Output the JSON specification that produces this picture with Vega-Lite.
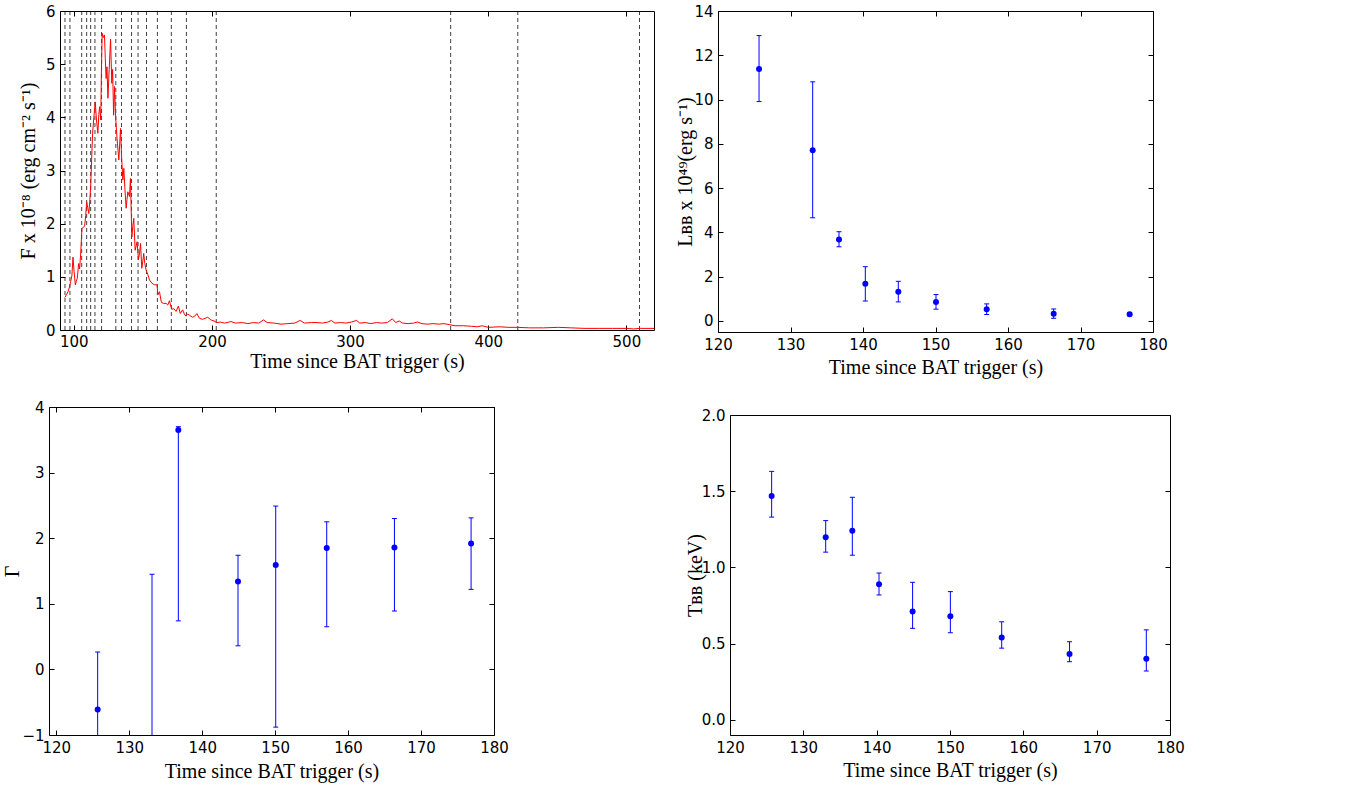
{
  "$schema": "https://vega.github.io/schema/vega-lite/v6.json",
  "background": "white",
  "padding": {"left": 2, "top": 3, "right": 5, "bottom": 5},
  "config": {
    "view": {"stroke": "#000000", "strokeWidth": 1},
    "axis": {"grid": false, "domain": false, "domainColor": "#000000", "domainWidth": 1, "tickColor": "#000000", "tickSize": -5, "labelPadding": 10, "labelFont": "DejaVu Sans", "labelFontSize": 15, "labelColor": "#000000", "titleFont": "Liberation Serif", "titleFontSize": 20, "titleFontWeight": "normal", "titleColor": "#000000", "labelFlush": false, "labelOverlap": false}
  },
  "datasets": {
    "dash": [{"t":93.6},{"t":97.2},{"t":105.7},{"t":109.3},{"t":112.2},{"t":115.3},{"t":120.1},{"t":130.4},{"t":134.5},{"t":141.8},{"t":146.5},{"t":152.6},{"t":160.5},{"t":170.6},{"t":181.5},{"t":203.1},{"t":372.8},{"t":421.4},{"t":509.5}],
    "lc": [
      {"t":93.5,"f":0.61},{"t":94.6,"f":0.66},{"t":95.8,"f":0.72},{"t":96.8,"f":0.8},{"t":97.7,"f":0.91},{"t":98.6,"f":1.02},{"t":99.4,"f":1.37},{"t":100.2,"f":1.1},{"t":101.1,"f":0.85},{"t":101.8,"f":0.92},{"t":102.5,"f":0.97},{"t":103.5,"f":1.25},{"t":104.2,"f":1.15},{"t":104.9,"f":1.41},{"t":105.9,"f":1.91},{"t":106.8,"f":1.93},{"t":107.8,"f":1.95},{"t":108.6,"f":2.15},{"t":109.3,"f":2.41},{"t":110.1,"f":2.3},{"t":110.9,"f":2.19},{"t":111.6,"f":2.45},{"t":112.2,"f":2.7},{"t":112.9,"f":3.2},{"t":113.6,"f":3.7},{"t":114.5,"f":4.0},{"t":115.5,"f":4.29},{"t":116.4,"f":3.95},{"t":117.4,"f":3.7},{"t":118.1,"f":4.05},{"t":118.7,"f":4.2},{"t":119.5,"f":3.95},{"t":120.0,"f":4.9},{"t":120.5,"f":5.58},{"t":121.3,"f":5.5},{"t":122.2,"f":5.55},{"t":122.8,"f":5.1},{"t":123.4,"f":4.73},{"t":124.0,"f":4.95},{"t":124.7,"f":4.36},{"t":125.6,"f":4.9},{"t":126.6,"f":5.47},{"t":127.5,"f":4.64},{"t":128.1,"f":4.9},{"t":128.8,"f":4.04},{"t":129.5,"f":4.58},{"t":130.1,"f":4.1},{"t":130.7,"f":3.82},{"t":131.6,"f":3.5},{"t":132.6,"f":3.2},{"t":133.8,"f":3.79},{"t":134.6,"f":3.25},{"t":135.5,"f":2.82},{"t":136.2,"f":3.04},{"t":137.0,"f":2.65},{"t":137.9,"f":2.29},{"t":138.5,"f":2.45},{"t":139.1,"f":2.6},{"t":140.3,"f":2.51},{"t":141.0,"f":2.85},{"t":142.0,"f":1.75},{"t":142.7,"f":1.95},{"t":143.4,"f":2.1},{"t":144.4,"f":1.5},{"t":145.1,"f":1.58},{"t":145.8,"f":1.66},{"t":146.8,"f":1.32},{"t":147.6,"f":1.45},{"t":148.3,"f":1.63},{"t":149.2,"f":1.16},{"t":150.0,"f":1.3},{"t":150.6,"f":1.44},{"t":151.4,"f":1.25},{"t":152.3,"f":1.13},{"t":153.5,"f":1.05},{"t":154.8,"f":0.94},{"t":156.5,"f":0.88},{"t":158.4,"f":0.85},{"t":160.3,"f":0.85},{"t":160.8,"f":0.66},{"t":162.0,"f":0.72},{"t":163.4,"f":0.52},{"t":165.0,"f":0.5},{"t":166.8,"f":0.5},{"t":168.0,"f":0.47},{"t":169.2,"f":0.55},{"t":170.9,"f":0.39},{"t":172.5,"f":0.4},{"t":174.0,"f":0.35},{"t":175.7,"f":0.45},{"t":177.1,"f":0.31},{"t":178.8,"f":0.38},{"t":180.0,"f":0.3},{"t":181.2,"f":0.26},{"t":182.4,"f":0.3},{"t":183.6,"f":0.28},{"t":186.0,"f":0.24},{"t":187.5,"f":0.26},{"t":189.1,"f":0.31},{"t":190.9,"f":0.22},{"t":193.2,"f":0.2},{"t":195.0,"f":0.22},{"t":196.9,"f":0.24},{"t":199.2,"f":0.19},{"t":201.5,"f":0.17},{"t":203.6,"f":0.14},{"t":206.0,"f":0.15},{"t":208.9,"f":0.13},{"t":211.0,"f":0.14},{"t":213.7,"f":0.16},{"t":217,"f":0.13},{"t":222,"f":0.14},{"t":226,"f":0.12},{"t":230,"f":0.14},{"t":234,"f":0.13},{"t":237.3,"f":0.19},{"t":240,"f":0.14},{"t":245,"f":0.13},{"t":250,"f":0.11},{"t":255,"f":0.12},{"t":260,"f":0.13},{"t":263.8,"f":0.18},{"t":267,"f":0.13},{"t":272,"f":0.14},{"t":276,"f":0.14},{"t":280,"f":0.13},{"t":284,"f":0.15},{"t":286.4,"f":0.18},{"t":289,"f":0.13},{"t":293,"f":0.14},{"t":297,"f":0.13},{"t":301,"f":0.15},{"t":304.7,"f":0.18},{"t":307,"f":0.13},{"t":311,"f":0.14},{"t":315,"f":0.12},{"t":319,"f":0.14},{"t":323,"f":0.13},{"t":327,"f":0.14},{"t":330.6,"f":0.21},{"t":333,"f":0.14},{"t":335.5,"f":0.17},{"t":338,"f":0.13},{"t":342,"f":0.12},{"t":346,"f":0.13},{"t":348.7,"f":0.15},{"t":352,"f":0.12},{"t":356,"f":0.11},{"t":360,"f":0.12},{"t":364,"f":0.11},{"t":368,"f":0.12},{"t":372,"f":0.1},{"t":376,"f":0.08},{"t":382,"f":0.08},{"t":388,"f":0.07},{"t":392,"f":0.06},{"t":395.6,"f":0.08},{"t":400,"f":0.05},{"t":408,"f":0.06},{"t":415,"f":0.05},{"t":421,"f":0.05},{"t":430,"f":0.04},{"t":440,"f":0.04},{"t":451,"f":0.05},{"t":460,"f":0.04},{"t":470,"f":0.03},{"t":480,"f":0.03},{"t":490,"f":0.03},{"t":500,"f":0.03},{"t":505,"f":0.02},{"t":510,"f":0.03},{"t":520,"f":0.03}
    ],
    "lbb": [
      {"t":125.66,"v":11.38,"lo":9.91,"hi":12.89},
      {"t":133.06,"v":7.71,"lo":4.66,"hi":10.8},
      {"t":136.69,"v":3.68,"lo":3.35,"hi":4.03},
      {"t":140.32,"v":1.68,"lo":0.9,"hi":2.45},
      {"t":144.87,"v":1.32,"lo":0.86,"hi":1.79},
      {"t":150.07,"v":0.86,"lo":0.53,"hi":1.19},
      {"t":157.06,"v":0.53,"lo":0.29,"hi":0.77},
      {"t":166.3,"v":0.33,"lo":0.12,"hi":0.54},
      {"t":176.78,"v":0.3,"lo":0.23,"hi":0.37}
    ],
    "gam": [
      {"t":125.67,"v":-0.61,"lo":-1.8,"hi":0.265},
      {"t":133.12,"v":-2.3,"lo":-6.0,"hi":1.45},
      {"t":136.73,"v":3.65,"lo":0.74,"hi":3.7},
      {"t":144.91,"v":1.34,"lo":0.36,"hi":1.74},
      {"t":150.08,"v":1.59,"lo":-0.88,"hi":2.49},
      {"t":157.07,"v":1.85,"lo":0.65,"hi":2.25},
      {"t":166.35,"v":1.86,"lo":0.89,"hi":2.3},
      {"t":176.86,"v":1.92,"lo":1.22,"hi":2.31}
    ],
    "tbb": [
      {"t":125.68,"v":1.468,"lo":1.33,"hi":1.63},
      {"t":133.05,"v":1.198,"lo":1.1,"hi":1.307},
      {"t":136.68,"v":1.24,"lo":1.08,"hi":1.46},
      {"t":140.32,"v":0.889,"lo":0.819,"hi":0.963},
      {"t":144.9,"v":0.71,"lo":0.6,"hi":0.902},
      {"t":150.05,"v":0.68,"lo":0.571,"hi":0.841},
      {"t":157.05,"v":0.54,"lo":0.47,"hi":0.643},
      {"t":166.3,"v":0.431,"lo":0.381,"hi":0.512},
      {"t":176.77,"v":0.4,"lo":0.32,"hi":0.59}
    ]
  },
  "spacing": 22,
  "vconcat": [
    {
      "spacing": 19,
      "hconcat": [
        {
          "width": 594, "height": 319,
          "resolve": {"axis": {"x": "independent", "y": "independent"}},
          "layer": [
            {
              "data": {"name": "dash"},
              "mark": {"type": "rule", "color": "#000000", "strokeDash": [4, 3], "strokeWidth": 1, "opacity": 0.75},
              "encoding": {
                "x": {"field": "t", "type": "quantitative", "scale": {"domain": [90, 520], "nice": false, "zero": false}, "axis": {"orient": "top", "labels": false, "title": null, "values": [100, 200, 300, 400, 500]}}
              }
            },
            {
              "data": {"name": "lc"},
              "mark": {"type": "line", "color": "#ff0000", "strokeWidth": 1, "clip": true},
              "encoding": {
                "x": {"field": "t", "type": "quantitative", "scale": {"domain": [90, 520], "nice": false, "zero": false}, "axis": {"orient": "bottom", "labelPadding": 9, "values": [100, 200, 300, 400, 500], "title": "Time since BAT trigger (s)", "titleY": 37, "titleBaseline": "alphabetic"}},
                "y": {"field": "f", "type": "quantitative", "scale": {"domain": [0, 6], "nice": false}, "axis": {"orient": "left", "values": [0, 1, 2, 3, 4, 5, 6], "title": "F x 10⁻⁸ (erg cm⁻² s⁻¹)", "titleX": -26, "titleBaseline": "alphabetic"}}
              }
            }
          ]
        },
        {
          "width": 435, "height": 321,
          "data": {"name": "lbb"},
          "resolve": {"axis": {"x": "independent", "y": "independent"}},
          "layer": [
            {
              "mark": {"type": "rule", "color": "#0000ff", "strokeWidth": 1, "clip": true},
              "encoding": {
                "x": {"field": "t", "type": "quantitative", "scale": {"domain": [120, 180], "nice": false, "zero": false}, "axis": {"orient": "bottom", "values": [120, 130, 140, 150, 160, 170, 180], "title": "Time since BAT trigger (s)", "titleY": 41, "titleBaseline": "alphabetic"}},
                "y": {"field": "lo", "type": "quantitative", "scale": {"domain": [-0.5, 14], "nice": false, "zero": false}, "axis": {"orient": "left", "values": [0, 2, 4, 6, 8, 10, 12, 14], "title": "Lʙʙ x 10⁴⁹(erg s⁻¹)", "titleX": -27, "titleBaseline": "alphabetic"}},
                "y2": {"field": "hi"}
              }
            },
            {
              "mark": {"type": "tick", "orient": "horizontal", "size": 5, "thickness": 1, "color": "#0000ff", "opacity": 1, "clip": true},
              "encoding": {
                "x": {"field": "t", "type": "quantitative", "scale": {"domain": [120, 180], "nice": false, "zero": false}, "axis": null},
                "y": {"field": "lo", "type": "quantitative", "scale": {"domain": [-0.5, 14], "nice": false, "zero": false}, "axis": null}
              }
            },
            {
              "mark": {"type": "tick", "orient": "horizontal", "size": 5, "thickness": 1, "color": "#0000ff", "opacity": 1, "clip": true},
              "encoding": {
                "x": {"field": "t", "type": "quantitative", "scale": {"domain": [120, 180], "nice": false, "zero": false}, "axis": null},
                "y": {"field": "hi", "type": "quantitative", "scale": {"domain": [-0.5, 14], "nice": false, "zero": false}, "axis": null}
              }
            },
            {
              "mark": {"type": "circle", "size": 36, "color": "#0000ff", "opacity": 1, "clip": true},
              "encoding": {
                "x": {"field": "t", "type": "quantitative", "scale": {"domain": [120, 180], "nice": false, "zero": false}, "axis": {"orient": "top", "labels": false, "title": null, "values": [120, 130, 140, 150, 160, 170, 180]}},
                "y": {"field": "v", "type": "quantitative", "scale": {"domain": [-0.5, 14], "nice": false, "zero": false}, "axis": {"orient": "right", "labels": false, "title": null, "values": [0, 2, 4, 6, 8, 10, 12, 14]}}
              }
            }
          ]
        }
      ]
    },
    {
      "spacing": 176,
      "hconcat": [
        {
          "width": 434, "height": 328,
          "view": {"stroke": null},
          "data": {"name": "gam"},
          "resolve": {"axis": {"x": "independent", "y": "independent"}},
          "layer": [
            {
              "mark": {"type": "rule", "color": "#0000ff", "strokeWidth": 1, "clip": true},
              "encoding": {
                "x": {"field": "t", "type": "quantitative", "scale": {"domain": [119, 180], "range": [-11, 434], "nice": false, "zero": false}, "axis": {"orient": "bottom", "domain": true, "values": [120, 130, 140, 150, 160, 170, 180], "title": "Time since BAT trigger (s)", "titleY": 42, "titleBaseline": "alphabetic"}},
                "y": {"field": "lo", "type": "quantitative", "scale": {"domain": [-1, 4], "nice": false, "zero": false}, "axis": {"orient": "left", "offset": 11, "domain": true, "values": [-1, 0, 1, 2, 3, 4], "title": "Γ", "titleX": -31, "titleBaseline": "alphabetic"}},
                "y2": {"field": "hi"}
              }
            },
            {
              "mark": {"type": "tick", "orient": "horizontal", "size": 5, "thickness": 1, "color": "#0000ff", "opacity": 1, "clip": true},
              "encoding": {
                "x": {"field": "t", "type": "quantitative", "scale": {"domain": [119, 180], "range": [-11, 434], "nice": false, "zero": false}, "axis": null},
                "y": {"field": "lo", "type": "quantitative", "scale": {"domain": [-1, 4], "nice": false, "zero": false}, "axis": null}
              }
            },
            {
              "mark": {"type": "tick", "orient": "horizontal", "size": 5, "thickness": 1, "color": "#0000ff", "opacity": 1, "clip": true},
              "encoding": {
                "x": {"field": "t", "type": "quantitative", "scale": {"domain": [119, 180], "range": [-11, 434], "nice": false, "zero": false}, "axis": null},
                "y": {"field": "hi", "type": "quantitative", "scale": {"domain": [-1, 4], "nice": false, "zero": false}, "axis": null}
              }
            },
            {
              "mark": {"type": "circle", "size": 36, "color": "#0000ff", "opacity": 1, "clip": true},
              "encoding": {
                "x": {"field": "t", "type": "quantitative", "scale": {"domain": [119, 180], "range": [-11, 434], "nice": false, "zero": false}, "axis": {"orient": "top", "domain": true, "labels": false, "title": null, "values": [120, 130, 140, 150, 160, 170, 180]}},
                "y": {"field": "v", "type": "quantitative", "scale": {"domain": [-1, 4], "nice": false, "zero": false}, "axis": {"orient": "right", "domain": true, "labels": false, "title": null, "values": [-1, 0, 1, 2, 3, 4]}}
              }
            }
          ]
        },
        {
          "width": 440, "height": 328,
          "view": {"stroke": null},
          "data": {"name": "tbb"},
          "resolve": {"axis": {"x": "independent", "y": "independent"}},
          "layer": [
            {
              "mark": {"type": "rule", "color": "#0000ff", "strokeWidth": 1, "clip": true},
              "encoding": {
                "x": {"field": "t", "type": "quantitative", "scale": {"domain": [120, 180], "nice": false, "zero": false}, "axis": {"orient": "bottom", "domain": true, "values": [120, 130, 140, 150, 160, 170, 180], "title": "Time since BAT trigger (s)", "titleY": 41, "titleBaseline": "alphabetic"}},
                "y": {"field": "lo", "type": "quantitative", "scale": {"domain": [-0.1, 2.0], "range": [328, 8], "nice": false, "zero": false}, "axis": {"orient": "left", "domain": true, "values": [0, 0.5, 1, 1.5, 2], "format": ".1f", "title": "Tʙʙ  (keV)", "titleX": -29, "titleBaseline": "alphabetic"}},
                "y2": {"field": "hi"}
              }
            },
            {
              "mark": {"type": "tick", "orient": "horizontal", "size": 5, "thickness": 1, "color": "#0000ff", "opacity": 1, "clip": true},
              "encoding": {
                "x": {"field": "t", "type": "quantitative", "scale": {"domain": [120, 180], "nice": false, "zero": false}, "axis": null},
                "y": {"field": "lo", "type": "quantitative", "scale": {"domain": [-0.1, 2.0], "range": [328, 8], "nice": false, "zero": false}, "axis": {"orient": "left", "values": [2], "labels": false, "ticks": false, "domain": false, "title": null, "grid": true, "gridColor": "#000000", "gridOpacity": 1, "gridWidth": 1}}
              }
            },
            {
              "mark": {"type": "tick", "orient": "horizontal", "size": 5, "thickness": 1, "color": "#0000ff", "opacity": 1, "clip": true},
              "encoding": {
                "x": {"field": "t", "type": "quantitative", "scale": {"domain": [120, 180], "nice": false, "zero": false}, "axis": null},
                "y": {"field": "hi", "type": "quantitative", "scale": {"domain": [-0.1, 2.0], "range": [328, 8], "nice": false, "zero": false}, "axis": null}
              }
            },
            {
              "mark": {"type": "circle", "size": 36, "color": "#0000ff", "opacity": 1, "clip": true},
              "encoding": {
                "x": {"field": "t", "type": "quantitative", "scale": {"domain": [120, 180], "nice": false, "zero": false}, "axis": null},
                "y": {"field": "v", "type": "quantitative", "scale": {"domain": [-0.1, 2.0], "range": [328, 8], "nice": false, "zero": false}, "axis": {"orient": "right", "domain": true, "labels": false, "title": null, "values": [0, 0.5, 1, 1.5, 2]}}
              }
            }
          ]
        }
      ]
    }
  ]
}
